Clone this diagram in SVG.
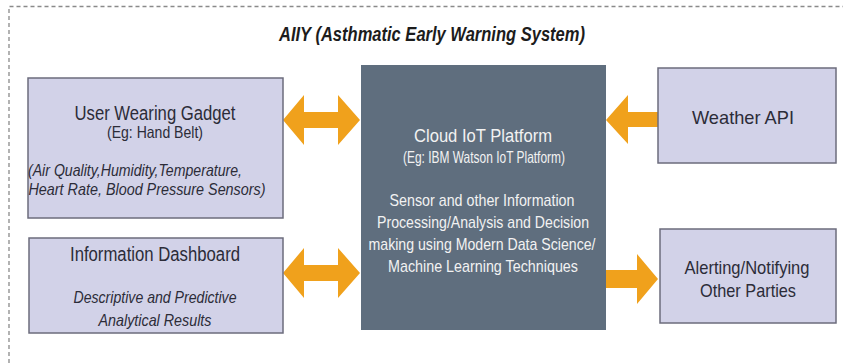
<svg xmlns="http://www.w3.org/2000/svg" width="843" height="364" viewBox="0 0 843 364">
<style>
.box{fill:#d2d2e8;stroke:#6c6c7c;stroke-width:1.5}
.core{fill:#5f6e7e}
.arrow{fill:#f0a11c}
text{font-family:"Liberation Sans",Arial,sans-serif;text-anchor:middle}
.dk{fill:#2c2c38}
.wh{fill:#f2f2f2}
.it{font-style:italic}
</style>
<rect width="843" height="364" fill="#ffffff"/>
<path d="M9 370 V6.5 H850" fill="none" stroke="#8a8a8a" stroke-width="1.3" stroke-dasharray="4 3"/>
<text x="432" y="41" font-size="20" font-weight="bold" font-style="italic" fill="#1c1c1c" textLength="306" lengthAdjust="spacingAndGlyphs">AIIY (Asthmatic Early Warning System)</text>

<g id="connectors">
<polygon class="arrow" points="283,120 304,95 304,112 338,112 338,95 360,120 338,145 338,128 304,128 304,145"/>
<polygon class="arrow" points="283,273 304,248 304,265 338,265 338,248 360,273 338,298 338,281 304,281 304,298"/>
<polygon class="arrow" points="606,120 628,95 628,112 658,112 658,127 628,127 628,144"/>
<polygon class="arrow" points="658,279 637,254 637,270 606,270 606,288 637,288 637,304"/>
</g>

<g id="gadget">
<rect class="box" x="28" y="78" width="255" height="140"/>
<text class="dk" x="155" y="120" font-size="20" textLength="161" lengthAdjust="spacingAndGlyphs">User Wearing Gadget</text>
<text class="dk" x="155" y="138" font-size="16.5" textLength="96" lengthAdjust="spacingAndGlyphs">(Eg: Hand Belt)</text>
<text class="dk it" x="135" y="176" font-size="17" textLength="214" lengthAdjust="spacingAndGlyphs">(Air Quality,Humidity,Temperature,</text>
<text class="dk it" x="147" y="195" font-size="17" textLength="237" lengthAdjust="spacingAndGlyphs">Heart Rate, Blood Pressure Sensors)</text>
</g>

<g id="dashboard">
<rect class="box" x="29" y="238" width="254" height="95"/>
<text class="dk" x="155" y="261" font-size="20" textLength="170" lengthAdjust="spacingAndGlyphs">Information Dashboard</text>
<text class="dk it" x="155" y="303" font-size="17" textLength="163" lengthAdjust="spacingAndGlyphs">Descriptive and Predictive</text>
<text class="dk it" x="155" y="326" font-size="17" textLength="113" lengthAdjust="spacingAndGlyphs">Analytical Results</text>
</g>

<g id="cloud">
<rect class="core" x="361" y="65" width="245" height="265"/>
<text class="wh" x="483" y="142" font-size="19" textLength="138" lengthAdjust="spacingAndGlyphs">Cloud IoT Platform</text>
<text class="wh" x="484" y="163" font-size="16.5" textLength="162" lengthAdjust="spacingAndGlyphs">(Eg: IBM Watson IoT Platform)</text>
<text class="wh" x="482" y="206" font-size="17" textLength="185" lengthAdjust="spacingAndGlyphs">Sensor and other Information</text>
<text class="wh" x="483" y="228" font-size="17" textLength="212" lengthAdjust="spacingAndGlyphs">Processing/Analysis and Decision</text>
<text class="wh" x="482" y="250" font-size="17" textLength="227" lengthAdjust="spacingAndGlyphs">making using Modern Data Science/</text>
<text class="wh" x="483" y="272" font-size="17" textLength="190" lengthAdjust="spacingAndGlyphs">Machine Learning Techniques</text>
</g>

<g id="weather">
<rect class="box" x="658" y="68" width="178" height="95"/>
<text class="dk" x="743" y="124" font-size="19" textLength="102" lengthAdjust="spacingAndGlyphs">Weather API</text>
</g>

<g id="alerting">
<rect class="box" x="660" y="229" width="176" height="94"/>
<text class="dk" x="747" y="274" font-size="19" textLength="125" lengthAdjust="spacingAndGlyphs">Alerting/Notifying</text>
<text class="dk" x="748" y="297" font-size="19" textLength="96" lengthAdjust="spacingAndGlyphs">Other Parties</text>
</g>
</svg>
